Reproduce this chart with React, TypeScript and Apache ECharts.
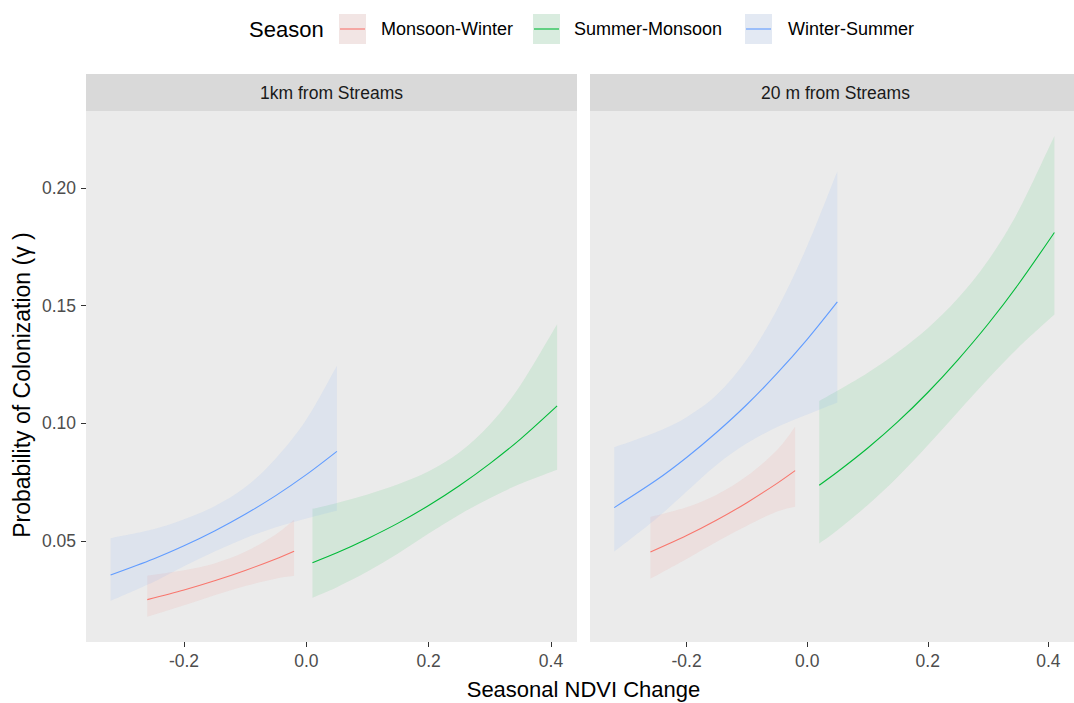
import React, { useEffect, useRef } from "react";
import * as echarts from "echarts";

// ---------- data ----------
const seasons = ["Monsoon-Winter", "Summer-Monsoon", "Winter-Summer"];
const panels = ["1km from Streams", "20 m from Streams"];
const xTicks = [-0.2, 0, 0.2, 0.4];
const yTicks = [0.05, 0.1, 0.15, 0.2];

// Panel 1: 1km from Streams
const mw1X = [-0.26, -0.2, -0.15, -0.1, -0.05, -0.02];
const mw1Fit = [0.0251, 0.0292, 0.0331, 0.0375, 0.0424, 0.0457];
const mw1Lo = [0.0178, 0.0227, 0.027, 0.0309, 0.034, 0.0352];
const mw1Hi = [0.0353, 0.0376, 0.0405, 0.0454, 0.0528, 0.059];

const sm1X = [0.01, 0.05, 0.1, 0.15, 0.2, 0.25, 0.3, 0.35, 0.41];
const sm1Fit = [0.0408, 0.045, 0.051, 0.0576, 0.0651, 0.0735, 0.0829, 0.0933, 0.1074];
const sm1Lo = [0.0259, 0.0304, 0.037, 0.0447, 0.0532, 0.0612, 0.0682, 0.0743, 0.0803];
const sm1Hi = [0.0637, 0.0662, 0.0698, 0.0741, 0.0796, 0.0876, 0.0995, 0.1162, 0.1421];

const ws1X = [-0.32, -0.25, -0.2, -0.15, -0.1, -0.05, 0, 0.05];
const ws1Fit = [0.0356, 0.0424, 0.048, 0.0543, 0.0614, 0.0693, 0.0782, 0.0881];
const ws1Lo = [0.0246, 0.0326, 0.0393, 0.0455, 0.0512, 0.0559, 0.0596, 0.0629];
const ws1Hi = [0.0512, 0.055, 0.0592, 0.0648, 0.0728, 0.0851, 0.1016, 0.1245];

// Panel 2: 20 m from Streams
const mw2X = [-0.26, -0.2, -0.15, -0.1, -0.05, -0.02];
const mw2Fit = [0.0453, 0.0523, 0.0589, 0.0663, 0.0745, 0.0799];
const mw2Lo = [0.034, 0.0424, 0.0497, 0.0565, 0.0625, 0.0646];
const mw2Hi = [0.0602, 0.0644, 0.0697, 0.0776, 0.0887, 0.0986];

const sm2X = [0.02, 0.05, 0.1, 0.15, 0.2, 0.25, 0.3, 0.35, 0.41];
const sm2Fit = [0.0737, 0.0793, 0.0894, 0.1006, 0.1131, 0.127, 0.1422, 0.159, 0.1811];
const sm2Lo = [0.049, 0.0546, 0.0652, 0.0772, 0.0907, 0.1048, 0.1189, 0.1321, 0.1462];
const sm2Hi = [0.1095, 0.1138, 0.1214, 0.1302, 0.1404, 0.1531, 0.1692, 0.1901, 0.2221];

const ws2X = [-0.32, -0.25, -0.2, -0.15, -0.1, -0.05, 0, 0.05];
const ws2Fit = [0.0642, 0.0759, 0.0855, 0.0962, 0.108, 0.1212, 0.1357, 0.1516];
const ws2Lo = [0.0455, 0.0596, 0.071, 0.0824, 0.0915, 0.0984, 0.1038, 0.1089];
const ws2Hi = [0.0898, 0.0963, 0.1026, 0.1121, 0.1272, 0.1484, 0.1753, 0.2071];

// ---------- styling ----------
const FONT = "'Liberation Sans', Arial, Helvetica, sans-serif";
const LINE_COLORS = ["#F8766D", "#00BA38", "#619CFF"];
const FILL_COLORS = ["rgba(248,118,109,0.1)", "rgba(0,186,56,0.1)", "rgba(97,156,255,0.1)"];
const X_MIN = -0.3602;
const X_MAX = 0.4425;
const Y_MIN = 0.0071;
const Y_MAX = 0.2327;

const PANEL_TOP = 111;
const PANEL_H = 531;
const PANEL_W = 491;
const PANEL_LEFTS = [86, 590];
const STRIP_TOP = 74;

type Group = { x: number[]; fit: number[]; lo: number[]; hi: number[] };
const panelData: Group[][] = [
  [
    { x: mw1X, fit: mw1Fit, lo: mw1Lo, hi: mw1Hi },
    { x: sm1X, fit: sm1Fit, lo: sm1Lo, hi: sm1Hi },
    { x: ws1X, fit: ws1Fit, lo: ws1Lo, hi: ws1Hi },
  ],
  [
    { x: mw2X, fit: mw2Fit, lo: mw2Lo, hi: mw2Hi },
    { x: sm2X, fit: sm2Fit, lo: sm2Lo, hi: sm2Hi },
    { x: ws2X, fit: ws2Fit, lo: ws2Lo, hi: ws2Hi },
  ],
];

// smooth path segments (Catmull-Rom -> cubic Bezier) through pixel points
function curveSegments(pts: number[][]): string {
  let d = "";
  const n = pts.length;
  for (let i = 0; i < n - 1; i++) {
    const p0 = pts[Math.max(0, i - 1)];
    const p1 = pts[i];
    const p2 = pts[i + 1];
    const p3 = pts[Math.min(n - 1, i + 2)];
    const c1x = p1[0] + (p2[0] - p0[0]) / 6;
    const c1y = p1[1] + (p2[1] - p0[1]) / 6;
    const c2x = p2[0] - (p3[0] - p1[0]) / 6;
    const c2y = p2[1] - (p3[1] - p1[1]) / 6;
    d += ` C ${c1x} ${c1y} ${c2x} ${c2y} ${p2[0]} ${p2[1]}`;
  }
  return d;
}

function buildOption() {
  const grids = PANEL_LEFTS.map((left) => ({
    left,
    top: PANEL_TOP,
    width: PANEL_W,
    height: PANEL_H,
    show: true,
    backgroundColor: "#EBEBEB",
    borderWidth: 0,
    containLabel: false,
  }));

  const xAxes = PANEL_LEFTS.map((_, i) => ({
    type: "value",
    gridIndex: i,
    min: X_MIN,
    max: X_MAX,
    axisLine: { show: false, onZero: false },
    splitLine: { show: false },
    axisTick: {
      show: true,
      customValues: xTicks,
      length: 5,
      lineStyle: { color: "#333333", width: 1 },
    },
    axisLabel: {
      customValues: xTicks,
      formatter: (v: number) => v.toFixed(1),
      color: "#4D4D4D",
      fontSize: 17.5,
      fontFamily: FONT,
      margin: 10,
    },
  }));

  const yAxes = PANEL_LEFTS.map((_, i) => ({
    type: "value",
    gridIndex: i,
    min: Y_MIN,
    max: Y_MAX,
    axisLine: { show: false, onZero: false },
    splitLine: { show: false },
    axisTick: {
      show: i === 0,
      customValues: yTicks,
      length: 5,
      lineStyle: { color: "#333333", width: 1 },
    },
    axisLabel: {
      show: i === 0,
      customValues: yTicks,
      formatter: (v: number) => v.toFixed(2),
      color: "#4D4D4D",
      fontSize: 17.5,
      fontFamily: FONT,
      margin: 10,
    },
  }));

  const series: any[] = [];
  panelData.forEach((groups, p) => {
    // ribbons first (drawn under the lines)
    groups.forEach((g, s) => {
      series.push({
        type: "custom",
        name: seasons[s] + " CI",
        xAxisIndex: p,
        yAxisIndex: p,
        silent: true,
        z: 1,
        data: [[g.x[0], g.lo[0]]],
        renderItem: (_params: any, api: any) => {
          const up: number[][] = g.x.map((v, i) => api.coord([v, g.hi[i]]));
          const low: number[][] = g.x.map((v, i) => api.coord([v, g.lo[i]])).reverse();
          let d = `M ${up[0][0]} ${up[0][1]}` + curveSegments(up);
          d += ` L ${low[0][0]} ${low[0][1]}` + curveSegments(low) + " Z";
          return {
            type: "path",
            shape: { pathData: d },
            style: { fill: FILL_COLORS[s], stroke: "none" },
          };
        },
      });
    });
    groups.forEach((g, s) => {
      series.push({
        type: "line",
        name: seasons[s],
        xAxisIndex: p,
        yAxisIndex: p,
        z: 3,
        silent: true,
        showSymbol: false,
        symbol: "none",
        smooth: 0.3,
        data: g.x.map((v, i) => [v, g.fit[i]]),
        lineStyle: { color: LINE_COLORS[s], width: 1.1 },
      });
    });
  });

  const graphics: any[] = [];
  // strips
  PANEL_LEFTS.forEach((left, i) => {
    graphics.push({
      type: "rect",
      shape: { x: left, y: STRIP_TOP, width: PANEL_W, height: PANEL_TOP - STRIP_TOP },
      style: { fill: "#D9D9D9" },
      silent: true,
    });
    graphics.push({
      type: "text",
      x: left + PANEL_W / 2,
      y: STRIP_TOP + (PANEL_TOP - STRIP_TOP) / 2,
      style: {
        text: panels[i],
        fill: "#1A1A1A",
        font: `17.5px ${FONT}`,
        textAlign: "center",
        textVerticalAlign: "middle",
      },
      silent: true,
    });
  });
  // axis titles
  graphics.push({
    type: "text",
    x: (PANEL_LEFTS[0] + PANEL_LEFTS[1] + PANEL_W) / 2,
    y: 689,
    style: {
      text: "Seasonal NDVI Change",
      fill: "#000000",
      font: `22px ${FONT}`,
      textAlign: "center",
      textVerticalAlign: "middle",
    },
    silent: true,
  });
  graphics.push({
    type: "text",
    x: 22,
    y: 385,
    rotation: Math.PI / 2,
    style: {
      text: "Probability of Colonization (\u03B3 )",
      fill: "#000000",
      font: `23px ${FONT}`,
      textAlign: "center",
      textVerticalAlign: "middle",
    },
    silent: true,
  });
  // legend
  const LEG_Y = 29;
  const KEY_W = 27;
  const KEY_H = 30;
  graphics.push({
    type: "text",
    x: 249,
    y: LEG_Y,
    style: {
      text: "Season",
      fill: "#000000",
      font: `22px ${FONT}`,
      textAlign: "left",
      textVerticalAlign: "middle",
    },
    silent: true,
  });
  const keyX = [339, 533, 745];
  const labelX = [381, 574, 788];
  seasons.forEach((name, s) => {
    graphics.push({
      type: "rect",
      shape: { x: keyX[s], y: LEG_Y - KEY_H / 2, width: KEY_W, height: KEY_H },
      style: { fill: "#F2F2F2" },
      silent: true,
    });
    graphics.push({
      type: "rect",
      shape: { x: keyX[s], y: LEG_Y - KEY_H / 2, width: KEY_W, height: KEY_H },
      style: { fill: FILL_COLORS[s] },
      silent: true,
    });
    graphics.push({
      type: "line",
      shape: { x1: keyX[s] + 1, y1: LEG_Y, x2: keyX[s] + KEY_W - 1, y2: LEG_Y },
      style: { stroke: LINE_COLORS[s], lineWidth: 1.1 },
      silent: true,
    });
    graphics.push({
      type: "text",
      x: labelX[s],
      y: LEG_Y,
      style: {
        text: name,
        fill: "#000000",
        font: `18px ${FONT}`,
        textAlign: "left",
        textVerticalAlign: "middle",
      },
      silent: true,
    });
  });

  return {
    animation: false,
    backgroundColor: "#FFFFFF",
    textStyle: { fontFamily: FONT },
    grid: grids,
    xAxis: xAxes,
    yAxis: yAxes,
    series,
    graphic: graphics,
  };
}

export default function App() {
  const ref = useRef<HTMLDivElement>(null);
  useEffect(() => {
    if (!ref.current) return;
    const chart = echarts.init(ref.current, null, { renderer: "svg" });
    chart.setOption(buildOption() as any);
    return () => chart.dispose();
  }, []);
  return (
    <div
      ref={ref}
      style={{ position: "fixed", left: 0, top: 0, width: 1074, height: 703, background: "#FFFFFF" }}
    />
  );
}
